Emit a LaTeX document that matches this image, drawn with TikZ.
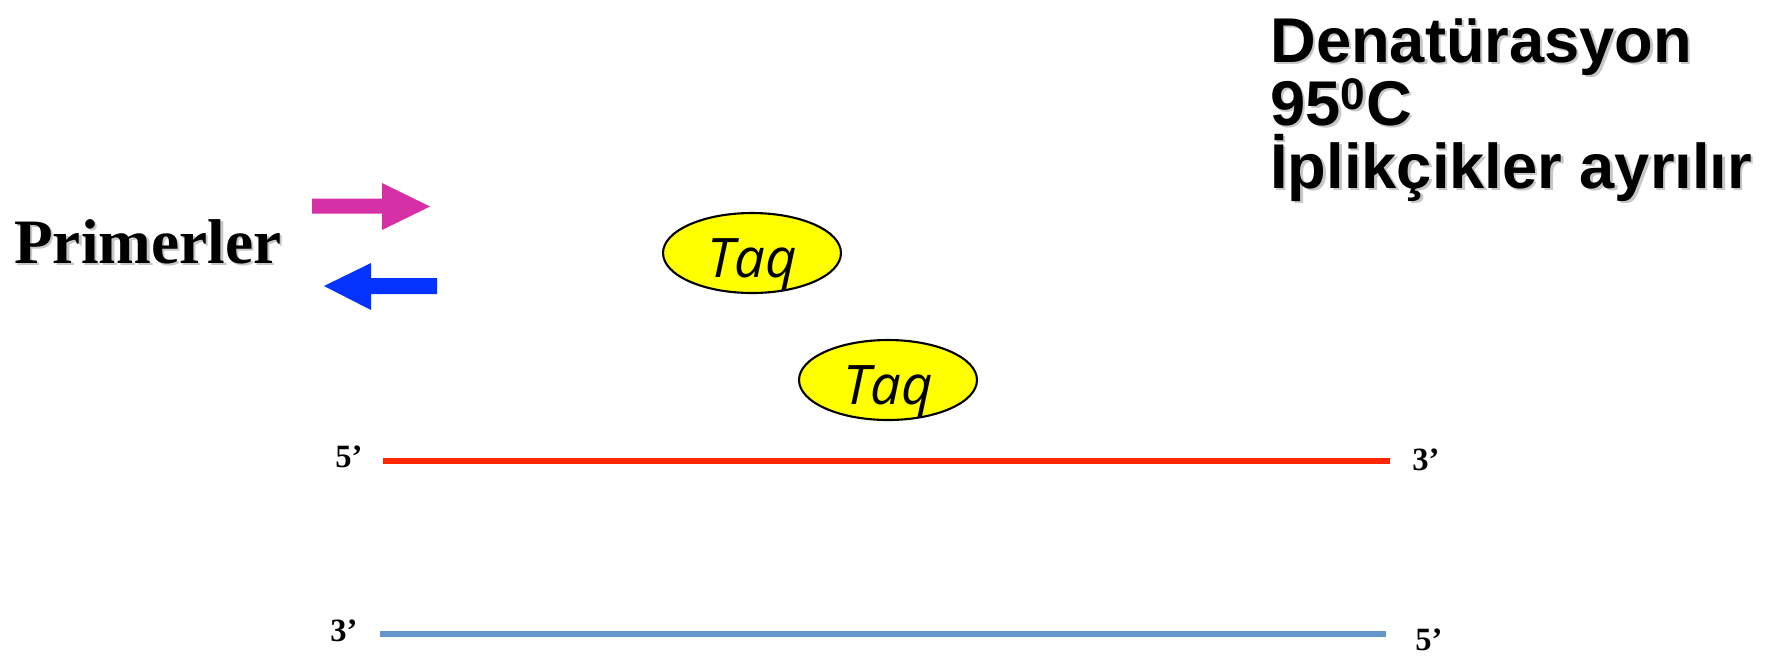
\documentclass[tikz,border=0pt]{standalone}
\usepackage{fontspec}
\setmainfont{Liberation Serif}
\newfontfamily\headfont{Liberation Sans}
\newfontfamily\taqfont{Open Sans}
\usetikzlibrary{shapes.geometric}
\definecolor{primpink}{RGB}{214,48,166}
\definecolor{primblue}{RGB}{4,51,255}
\definecolor{strandred}{RGB}{255,38,0}
\definecolor{strandblue}{RGB}{99,150,204}
\definecolor{taqyellow}{RGB}{255,255,0}
\tikzset{
  headtxt/.style={anchor=base west, inner sep=0pt, font=\headfont\bfseries\fontsize{36}{36}\selectfont},
  endlabel/.style={anchor=base west, inner sep=0pt, font=\bfseries\fontsize{18.5}{20}\selectfont},
  taqbox/.style={ellipse, draw=black, line width=1.2pt, fill=taqyellow, minimum width=3.56cm, minimum height=1.6cm, inner sep=0pt,
     font=\taqfont\itshape\fontsize{31}{31}\selectfont, text height=28.3pt, text depth=0pt},
  strand/.style={line width=3.4pt},
  shadowtxt/.style={text=black!22},
}
\begin{document}
\begin{tikzpicture}[x=0.02cm,y=-0.02cm]
\useasboundingbox (0,0) rectangle (1785,657);
% title
\begin{scope}[shadowtxt]
\node[headtxt, shadowtxt] at (1272.5,64.5) {Denatürasyon};
\node[headtxt, shadowtxt] at (1272.5,127.5) {95\textsuperscript{0}C};
\node[headtxt, shadowtxt] at (1272.5,190.5) {İplikçikler ayrılır};
\end{scope}
\node[headtxt] (title1) at (1270,62) {Denatürasyon};
\node[headtxt] (title2) at (1270,125) {95\textsuperscript{0}C};
\node[headtxt] (title3) at (1270,188) {İplikçikler ayrılır};
% primers label
\node[anchor=base west, inner sep=0pt, font=\bfseries\fontsize{36}{36}\selectfont, text=black!22] at (16.5,265.5) {Primerler};
\node[anchor=base west, inner sep=0pt, font=\bfseries\fontsize{36}{36}\selectfont] (primers) at (14,263) {Primerler};
% primer arrows
\fill[primpink] (312,198.5) -- (382,198.5) -- (382,183) -- (430,206.5) -- (382,230) -- (382,213.5) -- (312,213.5) -- cycle;
\fill[primblue] (437,278) -- (371,278) -- (371,263) -- (324,286) -- (371,310) -- (371,294) -- (437,294) -- cycle;
% Taq enzymes
\node[taqbox] (taq1) at (752,253) {Taq};
\node[taqbox] (taq2) at (888,380) {Taq};
% strands
\coordinate (r1) at (383,461);
\coordinate (r2) at (1390,461);
\coordinate (b1) at (380,634);
\coordinate (b2) at (1386,634);
\draw[strand, strandred] (r1) -- (r2);
\draw[strand, strandblue] (b1) -- (b2);
\node[endlabel] (l5) at (335,467) {5’};
\node[endlabel] (r3) at (1412,470) {3’};
\node[endlabel] (l3) at (330,641) {3’};
\node[endlabel] (r5) at (1415,650) {5’};
\end{tikzpicture}
\end{document}
